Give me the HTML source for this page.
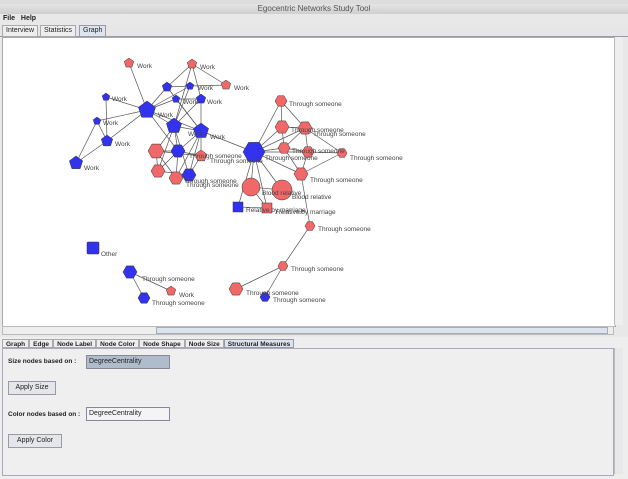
<!DOCTYPE html>
<html><head><style>
body{margin:0;width:628px;height:479px;overflow:hidden;background:#e8e8e8;font-family:"Liberation Sans",sans-serif;font-size:7px;color:#222;position:relative}
.a{position:absolute}
</style></head><body>
<div class="a" style="left:0;top:0;width:628px;height:5px;background:#ddd"></div>
<div class="a" style="left:0;top:4px;width:628px;height:10px;background:linear-gradient(#e4e4e4,#cfcfcf);text-align:center;font-size:8px;color:#555;line-height:10px">Egocentric Networks Study Tool</div>
<div class="a" style="left:3px;top:15px;font-size:7px;font-weight:bold">File&nbsp;&nbsp;&nbsp;Help</div>
<div class="a" style="left:0;top:25px;width:628px;height:11px;background:#e6e6e6;border-bottom:1px solid #99a"></div>
<div class="a" style="left:2px;top:25px;height:10px;padding:0 3px;border:1px solid #aaa;line-height:10px;background:#eee">Interview</div>
<div class="a" style="left:40px;top:25px;height:10px;padding:0 3px;border:1px solid #aaa;line-height:10px;background:#eee">Statistics</div>
<div class="a" style="left:79px;top:25px;height:10px;padding:0 3px;border:1px solid #99a;line-height:10px;background:#dde4ee">Graph</div>
<div class="a" style="left:2px;top:37px;width:612px;height:288px;background:#fff;border:1px solid #aaa"></div>
<div class="a" style="left:614px;top:37px;width:8px;height:288px;background:#eee;border-left:1px solid #bbb"></div>
<div class="a" style="left:2px;top:326px;width:610px;height:7px;background:#eee;border:1px solid #bbb"></div>
<div class="a" style="left:156px;top:327px;width:450px;height:5px;background:#dde3ec;border:1px solid #aab"></div>
<svg class="a" style="left:0;top:0" width="628" height="330" font-family="Liberation Sans,sans-serif" font-size="6.5" fill="#444">
<defs>
<polygon id="p" points="0,-1 0.95,-0.31 0.59,0.81 -0.59,0.81 -0.95,-0.31" stroke="#333" vector-effect="non-scaling-stroke" stroke-width="0.5"/>
<polygon id="h" points="-1,0 -0.5,-0.87 0.5,-0.87 1,0 0.5,0.87 -0.5,0.87" stroke="#333" vector-effect="non-scaling-stroke" stroke-width="0.5"/>
</defs>
<g stroke="#555" stroke-width="0.7">
<line x1="129" y1="63" x2="147" y2="110"/><line x1="106" y1="97" x2="147" y2="110"/><line x1="106" y1="97" x2="107" y2="141"/><line x1="97" y1="121" x2="107" y2="141"/><line x1="97" y1="121" x2="76" y2="163"/><line x1="76" y1="163" x2="107" y2="141"/><line x1="107" y1="141" x2="147" y2="110"/><line x1="97" y1="121" x2="147" y2="110"/>
<line x1="147" y1="110" x2="167" y2="87"/><line x1="147" y1="110" x2="190" y2="86"/><line x1="147" y1="110" x2="174" y2="126"/><line x1="147" y1="110" x2="201" y2="131"/><line x1="147" y1="110" x2="176" y2="99"/><line x1="147" y1="110" x2="178" y2="151"/>
<line x1="192" y1="64" x2="167" y2="87"/><line x1="192" y1="64" x2="226" y2="85"/><line x1="192" y1="64" x2="201" y2="99"/><line x1="192" y1="64" x2="174" y2="126"/><line x1="226" y1="85" x2="190" y2="86"/>
<line x1="167" y1="87" x2="201" y2="131"/><line x1="190" y1="86" x2="174" y2="126"/><line x1="176" y1="99" x2="201" y2="131"/><line x1="201" y1="99" x2="201" y2="131"/><line x1="167" y1="87" x2="190" y2="86"/><line x1="176" y1="99" x2="201" y2="99"/><line x1="174" y1="126" x2="201" y2="99"/>
<line x1="201" y1="131" x2="254" y2="152"/><line x1="174" y1="126" x2="201" y2="131"/>
<line x1="174" y1="126" x2="156" y2="151"/><line x1="174" y1="126" x2="158" y2="171"/><line x1="174" y1="126" x2="189" y2="175"/><line x1="174" y1="126" x2="178" y2="151"/><line x1="201" y1="131" x2="178" y2="151"/><line x1="201" y1="131" x2="189" y2="175"/><line x1="201" y1="131" x2="176" y2="178"/><line x1="201" y1="131" x2="201" y2="156"/>
<line x1="156" y1="151" x2="178" y2="151"/><line x1="156" y1="151" x2="158" y2="171"/><line x1="156" y1="151" x2="176" y2="178"/><line x1="158" y1="171" x2="178" y2="151"/><line x1="158" y1="171" x2="189" y2="175"/><line x1="176" y1="178" x2="178" y2="151"/><line x1="178" y1="151" x2="201" y2="156"/><line x1="189" y1="175" x2="201" y2="156"/><line x1="156" y1="151" x2="201" y2="156"/><line x1="176" y1="178" x2="189" y2="175"/>
<line x1="254" y1="152" x2="281" y2="101"/><line x1="254" y1="152" x2="282" y2="127"/><line x1="254" y1="152" x2="305" y2="128"/><line x1="254" y1="152" x2="284" y2="148"/><line x1="254" y1="152" x2="308" y2="152"/><line x1="254" y1="152" x2="301" y2="174"/><line x1="254" y1="152" x2="251" y2="187"/><line x1="254" y1="152" x2="282" y2="190"/><line x1="254" y1="152" x2="238" y2="207"/><line x1="254" y1="152" x2="267" y2="208"/>
<line x1="281" y1="101" x2="305" y2="128"/><line x1="281" y1="101" x2="282" y2="127"/><line x1="282" y1="127" x2="305" y2="128"/><line x1="282" y1="127" x2="284" y2="148"/><line x1="305" y1="128" x2="308" y2="152"/><line x1="305" y1="128" x2="342" y2="153"/><line x1="305" y1="128" x2="284" y2="148"/><line x1="284" y1="148" x2="301" y2="174"/><line x1="308" y1="152" x2="342" y2="153"/><line x1="308" y1="152" x2="301" y2="174"/><line x1="342" y1="153" x2="301" y2="174"/><line x1="284" y1="148" x2="308" y2="152"/>
<line x1="251" y1="187" x2="282" y2="190"/><line x1="251" y1="187" x2="267" y2="208"/><line x1="238" y1="207" x2="267" y2="208"/>
<line x1="301" y1="174" x2="310" y2="226"/><line x1="310" y1="226" x2="283" y2="266"/><line x1="283" y1="266" x2="236" y2="289"/><line x1="283" y1="266" x2="265" y2="297"/>
<line x1="130" y1="272" x2="144" y2="298"/><line x1="130" y1="272" x2="171" y2="291"/>
</g>
<g fill="#f06868">
<use href="#p" transform="translate(129,63) scale(5)"/><use href="#p" transform="translate(192,64) scale(5)"/><use href="#p" transform="translate(226,85) scale(5)"/><use href="#p" transform="translate(201,156) scale(6)"/><use href="#p" transform="translate(171,291) scale(5)"/>
<use href="#h" transform="translate(156,151) scale(8)"/><use href="#h" transform="translate(158,171) scale(7)"/><use href="#h" transform="translate(176,178) scale(7)"/><use href="#h" transform="translate(281,101) scale(6)"/><use href="#h" transform="translate(282,127) scale(7)"/><use href="#h" transform="translate(305,128) scale(7)"/><use href="#h" transform="translate(284,148) scale(6)"/><use href="#h" transform="translate(308,152) scale(6)"/><use href="#h" transform="translate(342,153) scale(5)"/><use href="#h" transform="translate(301,174) scale(7)"/><use href="#h" transform="translate(310,226) scale(5)"/><use href="#h" transform="translate(283,266) scale(5)"/><use href="#h" transform="translate(236,289) scale(7)"/>
<circle cx="251" cy="187" r="9" stroke="#333" stroke-width="0.5"/><circle cx="282" cy="190" r="10" stroke="#333" stroke-width="0.5"/>
<rect x="262" y="203" width="10" height="10" stroke="#333" stroke-width="0.5"/>
</g>
<g fill="#3333ee">
<use href="#p" transform="translate(106,97) scale(4)"/><use href="#p" transform="translate(97,121) scale(4)"/><use href="#p" transform="translate(107,141) scale(6)"/><use href="#p" transform="translate(76,163) scale(7)"/><use href="#p" transform="translate(147,110) scale(9)"/><use href="#p" transform="translate(167,87) scale(5)"/><use href="#p" transform="translate(190,86) scale(4)"/><use href="#p" transform="translate(176,99) scale(4)"/><use href="#p" transform="translate(201,99) scale(5)"/><use href="#p" transform="translate(174,126) scale(8)"/><use href="#p" transform="translate(201,131) scale(8)"/>
<use href="#h" transform="translate(178,151) scale(7)"/><use href="#h" transform="translate(189,175) scale(7)"/><use href="#h" transform="translate(254,152) scale(11)"/><use href="#h" transform="translate(130,272) scale(7)"/><use href="#h" transform="translate(144,298) scale(6)"/><use href="#h" transform="translate(265,297) scale(5)"/>
<rect x="233" y="202" width="10" height="10" stroke="#333" stroke-width="0.5"/><rect x="87" y="242" width="12" height="12" rx="1" stroke="#333" stroke-width="0.5"/>
</g>
<text x="137" y="68">Work</text><text x="200" y="69">Work</text><text x="234" y="90">Work</text><text x="112" y="101">Work</text><text x="103" y="125">Work</text><text x="115" y="146">Work</text><text x="84" y="170">Work</text><text x="198" y="90">Work</text><text x="207" y="104">Work</text><text x="183" y="104">Work</text><text x="158" y="117">Work</text><text x="210" y="139">Work</text><text x="188" y="136">Work</text>
<text x="289" y="106">Through someone</text><text x="291" y="132">Through someone</text><text x="313" y="136">Through someone</text><text x="292" y="153">Through someone</text><text x="350" y="160">Through someone</text><text x="265" y="160">Through someone</text><text x="310" y="182">Through someone</text>
<text x="189" y="158">Through someone</text><text x="210" y="163">Through someone</text><text x="184" y="183">Through someone</text><text x="186" y="187">Through someone</text>
<text x="262" y="195">Blood relative</text><text x="292" y="199">Blood relative</text><text x="246" y="212">Relative by marriage</text><text x="276" y="214">Relative by marriage</text>
<text x="318" y="231">Through someone</text><text x="291" y="271">Through someone</text><text x="246" y="295">Through someone</text><text x="273" y="302">Through someone</text>
<text x="101" y="256">Other</text><text x="142" y="281">Through someone</text><text x="179" y="297">Work</text><text x="152" y="305">Through someone</text>
</svg>
<div class="a" style="left:0;top:337px;width:628px;height:142px;background:#eee"></div>
<div class="a" style="left:2px;top:339px;width:612px;height:9px;font-size:6.5px;font-weight:bold;line-height:9px;display:flex">
<span style="border:1px solid #aaa;padding:0 3px">Graph</span><span style="border:1px solid #aaa;padding:0 3px">Edge</span><span style="border:1px solid #aaa;padding:0 3px">Node Label</span><span style="border:1px solid #aaa;padding:0 3px">Node Color</span><span style="border:1px solid #aaa;padding:0 3px">Node Shape</span><span style="border:1px solid #aaa;padding:0 3px">Node Size</span><span style="border:1px solid #99a;padding:0 3px;background:#dde3ec">Structural Measures</span></div>
<div class="a" style="left:2px;top:348px;width:610px;height:126px;border:1px solid #aab;background:#efefef"></div>
<div class="a" style="left:614px;top:348px;width:8px;height:126px;background:#e8e8e8;border-left:1px solid #bbb"></div>
<div class="a" style="left:8px;top:358px;font-size:6.5px;font-weight:bold">Size nodes based on :</div>
<div class="a" style="left:86px;top:355px;width:82px;height:12px;background:#aebccc;border:1px solid #889;font-size:7px;line-height:12px">&nbsp;DegreeCentrality</div>
<div class="a" style="left:8px;top:381px;width:46px;height:12px;border:1px solid #99a;background:#e4e6ea;font-size:7px;line-height:12px;text-align:center">Apply Size</div>
<div class="a" style="left:8px;top:411px;font-size:6.5px;font-weight:bold">Color nodes based on :</div>
<div class="a" style="left:86px;top:407px;width:82px;height:12px;background:#f4f4f4;border:1px solid #889;font-size:7px;line-height:12px">&nbsp;DegreeCentrality</div>
<div class="a" style="left:8px;top:434px;width:52px;height:12px;border:1px solid #99a;background:#e4e6ea;font-size:7px;line-height:12px;text-align:center">Apply Color</div>
</body></html>
